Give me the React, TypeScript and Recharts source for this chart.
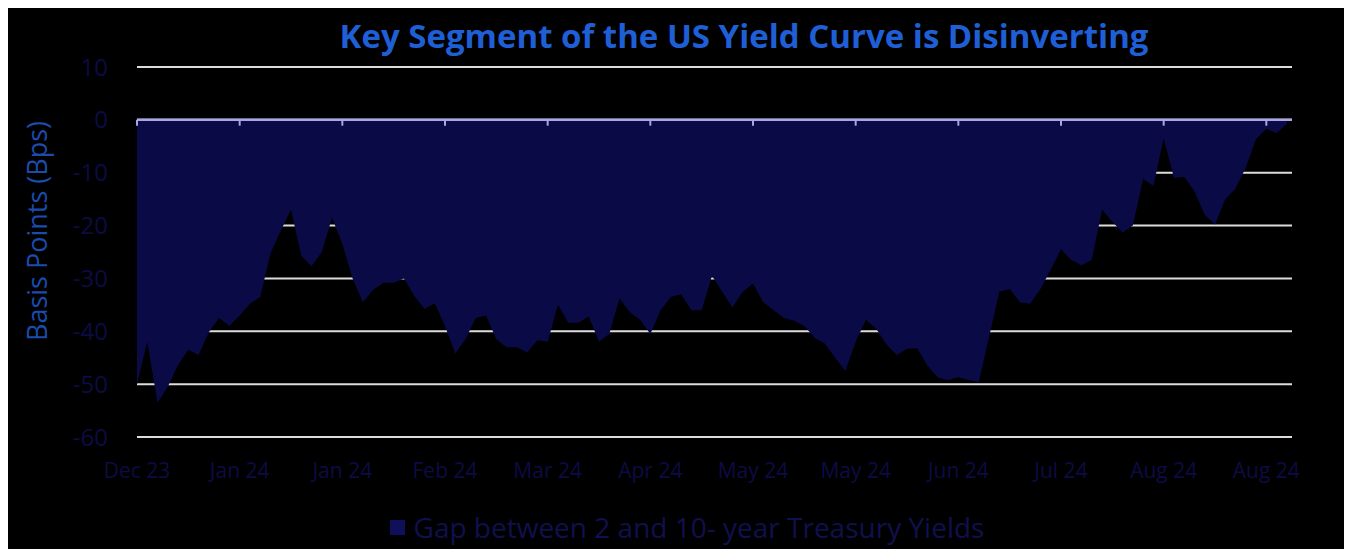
import React from "react";
import {
  AreaChart,
  Area,
  XAxis,
  YAxis,
  CartesianGrid,
  ReferenceLine,
  Legend,
} from "recharts";

const tickLabels = [
  "Dec 23", "Jan 24", "Jan 24", "Feb 24", "Mar 24", "Apr 24",
  "May 24", "May 24", "Jun 24", "Jul 24", "Aug 24", "Aug 24",
];
const tickPositions = [0, 10, 20, 30, 40, 50, 60, 70, 80, 90, 100, 110];
const yTicks = [-60, -50, -40, -30, -20, -10, 0, 10];

const gapValues = [
  -50, -42, -53.5, -50.5, -46.4, -43.5, -44.5, -40.2, -37.5, -39,
  -37, -34.8, -33.5, -25.3, -21, -17, -25.7, -27.7, -25, -18.5,
  -23.5, -30, -34.5, -32.2, -30.8, -30.8, -30, -33.3, -35.8, -34.7,
  -39, -44.2, -41.5, -37.5, -37, -41.5, -43, -43, -44, -41.7,
  -42, -35, -38.4, -38.4, -37.2, -42, -40.5, -33.8, -36.4, -37.8,
  -40.5, -36, -33.5, -33, -36, -36, -29.5, -32.5, -35.5, -32.5,
  -31, -34.5, -36, -37.5, -38, -39, -41.2, -42.3, -45, -47.5,
  -42, -37.8, -39.5, -42.5, -44.5, -43.3, -43.2, -46.5, -48.8, -49.2,
  -48.7, -49.2, -49.6, -41, -32.5, -32, -34.5, -34.8, -32, -28.3,
  -24.5, -26.5, -27.5, -26.5, -17, -19.3, -21.3, -20, -11.2, -12.5,
  -3.5, -11, -10.8, -13.5, -18, -19.8, -15, -13, -9, -3.6,
  -1.7, -2.5, -0.8,
];

const data = gapValues.map((v, i) => ({ idx: i, gap: v }));

const FONT = "'Open Sans', 'DejaVu Sans', sans-serif";
const AREA_COLOR = "#0a0a46";
const ZERO_COLOR = "#aaa6e6";
const TICK_TEXT = "#0c0c44";

const YLabel = (props: any) => {
  const vb = props.viewBox || {};
  const cx = 28;
  const cy = (vb.y ?? 0) + (vb.height ?? 0) / 2 - 21;
  return (
    <text
      x={cx}
      y={cy}
      transform={`rotate(-90, ${cx}, ${cy})`}
      textAnchor="middle"
      dominantBaseline="central"
      fill="#1a4cae"
      fontSize={27}
      fontFamily={FONT}
    >
      Basis Points (Bps)
    </text>
  );
};

const LegendContent = () => (
  <div
    style={{
      height: 30,
      display: "flex",
      justifyContent: "center",
      alignItems: "center",
      fontFamily: FONT,
      fontSize: 28,
      color: "#10104e",
      paddingLeft: 74,
    }}
  >
    <span
      style={{
        display: "inline-block",
        width: 15,
        height: 15,
        background: "#10105a",
        marginRight: 9,
      }}
    />
    Gap between 2 and 10- year Treasury Yields
  </div>
);

export default function App() {
  return (
    <div
      style={{
        position: "relative",
        width: 1344,
        height: 541,
        background: "#000",
      }}
    >
      <div
        style={{
          position: "absolute",
          left: 0,
          width: 1472,
          top: 5,
          textAlign: "center",
          fontFamily: FONT,
          fontWeight: 700,
          fontSize: 33,
          color: "#1f5fd6",
          zIndex: 2,
        }}
      >
        Key Segment of the US Yield Curve is Disinverting
      </div>
      <AreaChart
        width={1344}
        height={541}
        data={data}
        margin={{ top: 59, right: 60, left: 0, bottom: 7 }}
      >
        <CartesianGrid
          horizontal={true}
          vertical={false}
          stroke="#dcdcdc"
          strokeWidth={2}
        />
        <XAxis
          dataKey="idx"
          type="number"
          domain={[0, 112.5]}
          ticks={tickPositions}
          tickFormatter={(v: number) => tickLabels[tickPositions.indexOf(v)] ?? ""}
          axisLine={false}
          tickLine={false}
          tickSize={0}
          tickMargin={26}
          height={75}
          interval={0}
          tick={{ fill: TICK_TEXT, fontSize: 21, fontFamily: FONT }}
        />
        <YAxis
          type="number"
          domain={[-60, 10]}
          ticks={yTicks}
          axisLine={false}
          tickLine={false}
          tickSize={0}
          tickMargin={29}
          width={129}
          interval={0}
          tick={{ fill: TICK_TEXT, fontSize: 24, fontFamily: FONT }}
          label={<YLabel />}
        />
        <Area
          type="linear"
          dataKey="gap"
          name="Gap between 2 and 10- year Treasury Yields"
          stroke="none"
          fill={AREA_COLOR}
          fillOpacity={1}
          isAnimationActive={false}
        />
        <ReferenceLine y={0} stroke={ZERO_COLOR} strokeWidth={2.5} />
        {tickPositions.map((t) => (
          <ReferenceLine
            key={t}
            segment={[
              { x: t, y: 0 },
              { x: t, y: -1.1 },
            ]}
            stroke={ZERO_COLOR}
            strokeWidth={2}
          />
        ))}
        <Legend verticalAlign="bottom" height={30} content={<LegendContent />} />
      </AreaChart>
    </div>
  );
}
